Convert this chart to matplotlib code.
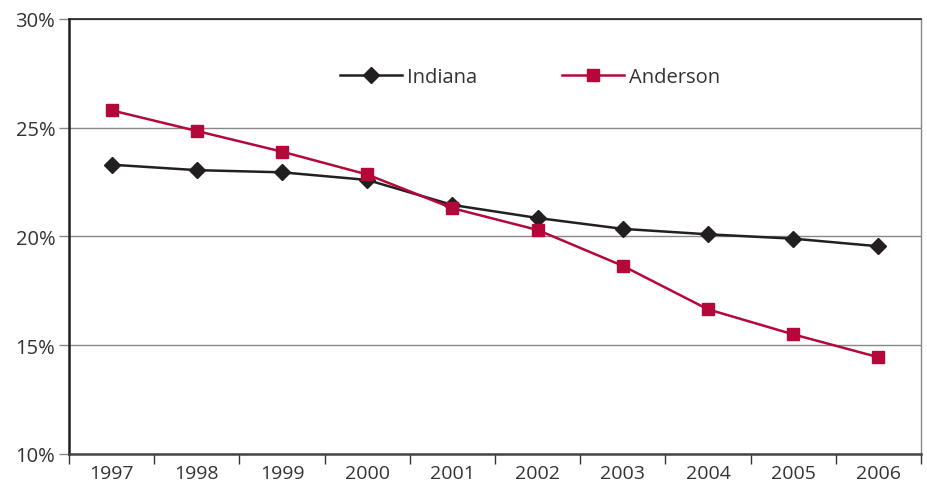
import matplotlib.pyplot as plt
from matplotlib.ticker import FixedLocator, NullFormatter

years = ['1997', '1998', '1999', '2000', '2001', '2002', '2003', '2004', '2005', '2006']
indiana = [23.3, 23.05, 22.95, 22.6, 21.45, 20.85, 20.35, 20.1, 19.9, 19.55]
anderson = [25.8, 24.85, 23.9, 22.85, 21.3, 20.3, 18.65, 16.65, 15.5, 14.45]
yticks = [10, 15, 20, 25, 30]

plt.rcParams['font.family'] = ['Open Sans', 'DejaVu Sans']
txt = '#333333'

fig = plt.figure(figsize=(9.28, 4.85), dpi=100)
ax = fig.add_axes([0.0744, 0.0619, 0.918, 0.8969])

x = list(range(1, len(years) + 1))
ax.plot(x, indiana, color='#231f20', lw=1.8, marker='D', ms=8.5, label='Indiana')
ax.plot(x, anderson, color='#b5083a', lw=1.8, marker='s', ms=9, label='Anderson')

ax.set_xlim(0.5, 10.5)
ax.set_ylim(10, 30)
ax.set_yticks(yticks)
ax.set_yticklabels(['%d%%' % v for v in yticks])
ax.yaxis.grid(True, color='#888888', lw=1)
ax.set_axisbelow(True)

ax.xaxis.set_major_locator(FixedLocator([i + 0.5 for i in range(0, 11)]))
ax.xaxis.set_major_formatter(NullFormatter())
ax.xaxis.set_minor_locator(FixedLocator(x))
ax.set_xticklabels(years, minor=True)
ax.tick_params(axis='x', which='major', length=7, width=1, color='#333333', direction='out')
ax.tick_params(axis='x', which='minor', length=0, pad=7, labelsize=14, labelcolor=txt)
ax.tick_params(axis='y', length=7, width=1, color='#888888', labelsize=14.5, labelcolor=txt, pad=3)

ax.spines['left'].set_color('#231f20')
ax.spines['left'].set_linewidth(1.8)
ax.spines['bottom'].set_color('#444444')
ax.spines['bottom'].set_linewidth(1.8)
ax.spines['top'].set_color('#231f20')
ax.spines['top'].set_linewidth(1.2)
ax.spines['right'].set_color('#888888')
ax.spines['right'].set_linewidth(1)

leg = ax.legend(loc='upper center', bbox_to_anchor=(0.541, 0.932), ncol=2, frameon=False,
                fontsize=14.5, columnspacing=4.2, handlelength=3.1, handletextpad=0.25)
for t in leg.get_texts():
    t.set_color(txt)

fig.savefig('out.png', dpi=100)
